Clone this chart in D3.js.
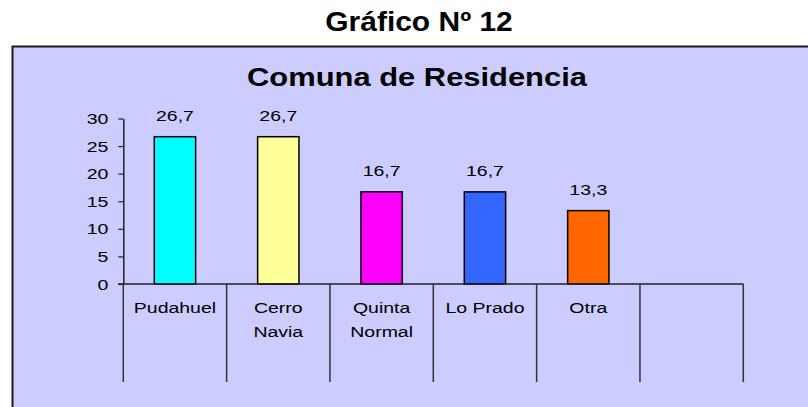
<!DOCTYPE html>
<html>
<head>
<meta charset="utf-8">
<script src="https://cdn.jsdelivr.net/npm/d3@7"></script>
<style>
  html, body { margin: 0; padding: 0; background: #ffffff; overflow: hidden; }
  svg { display: block; }
  text { font-family: "Liberation Sans", Arial, sans-serif; fill: #000; }
</style>
</head>
<body>
<svg id="chart" width="808" height="407"></svg>
<script>
const pageTitle = "Gráfico Nº 12";
const chartTitle = "Comuna de Residencia";
const categories = ["Pudahuel", "Cerro Navia", "Quinta Normal", "Lo Prado", "Otra", ""];
const values = [26.7, 26.7, 16.7, 16.7, 13.3, null];
const valueLabels = ["26,7", "26,7", "16,7", "16,7", "13,3", ""];
const barColors = ["#00FFFF", "#FFFF99", "#FF00FF", "#3366FF", "#FF6600", "none"];
const yTicks = [0, 5, 10, 15, 20, 25, 30];

const svg = d3.select("#chart");
const SX = 1.3; // horizontal stretch of the original text

// Frame
svg.append("rect")
  .attr("x", 12.5).attr("y", 46.5)
  .attr("width", 900).attr("height", 500)
  .attr("fill", "#CCCCFF")
  .attr("stroke", "#1a1a1a").attr("stroke-width", 2);

function stretchedText(g, x, y, txt, sx, anchor) {
  return g.append("text")
    .attr("transform", `translate(${x},${y}) scale(${sx},1)`)
    .attr("text-anchor", anchor || "middle")
    .text(txt);
}

stretchedText(svg, 419, 31, pageTitle, 1.11)
  .attr("font-size", 27).attr("font-weight", "bold");
stretchedText(svg, 417, 86, chartTitle, 1.236)
  .attr("font-size", 25).attr("font-weight", "bold");

const x = d3.scaleBand().domain(d3.range(categories.length)).range([123.3, 743.3]).padding(0);
const y = d3.scaleLinear().domain([0, 30]).range([284, 118.5]);

// Bars
const bw = x.bandwidth() * 0.4;
svg.append("g").selectAll("rect")
  .data(values.map((v, i) => ({ v, i })).filter(d => d.v !== null))
  .join("rect")
  .attr("x", d => x(d.i) + x.bandwidth() / 2 - bw / 2)
  .attr("y", d => y(d.v))
  .attr("width", bw)
  .attr("height", d => y(0) - y(d.v))
  .attr("fill", d => barColors[d.i])
  .attr("stroke", "#000").attr("stroke-width", 1.5);

// Value labels
const vl = svg.append("g");
values.forEach((v, i) => {
  if (v === null) return;
  stretchedText(vl, x(i) + x.bandwidth() / 2, y(v) - 15.6, valueLabels[i], SX)
    .attr("font-size", 15);
});

// Y axis
const yAxis = d3.axisLeft(y).tickValues(yTicks).tickSize(5).tickSizeOuter(0).tickFormat(d3.format("d"));
const ya = svg.append("g").attr("transform", "translate(123.3,0)").call(yAxis);
ya.select(".domain").attr("stroke", "#222").attr("stroke-width", 1.5);
ya.selectAll(".tick line").attr("stroke", "#222").attr("stroke-width", 1.2);
ya.selectAll(".tick text").remove();
ya.selectAll(".tick").each(function(d) {
  stretchedText(d3.select(this), -15, 5, String(d), SX)
    .attr("font-size", 15).attr("text-anchor", "end");
});

// X axis line + category dividers
svg.append("line")
  .attr("x1", 118).attr("x2", 743.3)
  .attr("y1", y(0)).attr("y2", y(0))
  .attr("stroke", "#222").attr("stroke-width", 1.5);
const bounds = categories.map((c, i) => x(i)).concat([x(categories.length - 1) + x.bandwidth()]);
svg.append("g").selectAll("line")
  .data(bounds)
  .join("line")
  .attr("x1", d => d).attr("x2", d => d)
  .attr("y1", y(0)).attr("y2", 382)
  .attr("stroke", "#333").attr("stroke-width", 1.5);

// Category labels (wrapped to band width)
const cl = svg.append("g");
categories.forEach((c, i) => {
  if (!c) return;
  const cx = x(i) + x.bandwidth() / 2;
  const probe = cl.append("text").attr("font-size", 15).text(c);
  const w = probe.node().getComputedTextLength() * SX;
  probe.remove();
  const lines = w > x.bandwidth() * 0.85 ? c.split(" ") : [c];
  lines.forEach((ln, k) => {
    stretchedText(cl, cx, 313 + k * 23.5, ln, SX).attr("font-size", 15);
  });
});
</script>
</body>
</html>
